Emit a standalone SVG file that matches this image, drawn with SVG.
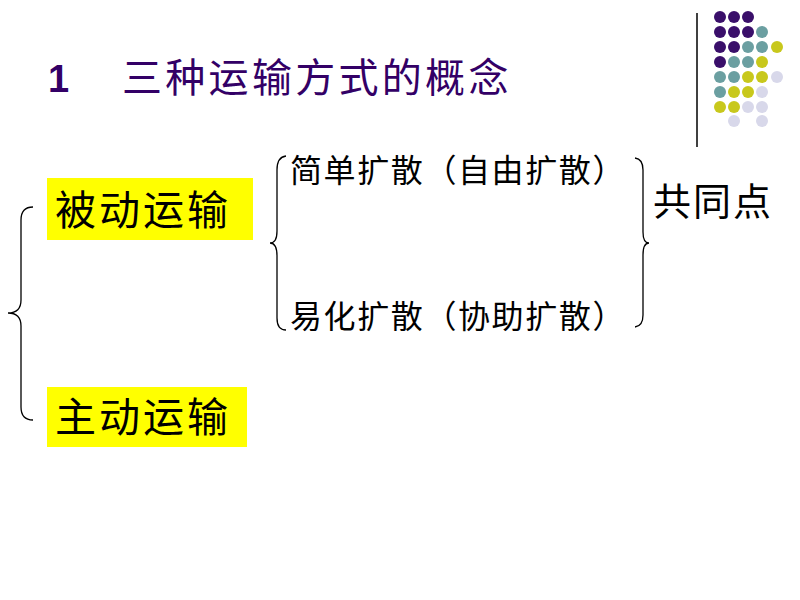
<svg xmlns="http://www.w3.org/2000/svg" width="800" height="600" viewBox="0 0 800 600">
<style>
.cjk{font-family:"Noto Sans CJK SC","Noto Sans",sans-serif;fill:#000}
.title{font-family:"Noto Sans CJK SC",sans-serif;fill:#330066}
.brace{fill:none;stroke:#000;stroke-width:1.3}
.hl{fill:#ffff00}
.p{fill:#3a0f6a}.t{fill:#6b9fa1}.y{fill:#c8c81c}.l{fill:#d8d8ea}
</style>
<rect width="800" height="600" fill="#fff"/>
<g id="decor">
<line x1="697" y1="13" x2="697" y2="147" stroke="#000" stroke-width="1.5"/>
<g>
<circle class="p" cx="720" cy="17" r="6"/><circle class="p" cx="734" cy="17" r="6"/><circle class="p" cx="748" cy="17" r="6"/>
<circle class="p" cx="720" cy="32" r="6"/><circle class="p" cx="734" cy="32" r="6"/><circle class="p" cx="748" cy="32" r="6"/><circle class="t" cx="762" cy="32" r="6"/>
<circle class="p" cx="720" cy="47" r="6"/><circle class="p" cx="734" cy="47" r="6"/><circle class="t" cx="748" cy="47" r="6"/><circle class="t" cx="762" cy="47" r="6"/><circle class="y" cx="777" cy="47" r="6"/>
<circle class="p" cx="720" cy="62" r="6"/><circle class="t" cx="734" cy="62" r="6"/><circle class="t" cx="748" cy="62" r="6"/><circle class="y" cx="762" cy="62" r="6"/>
<circle class="t" cx="720" cy="77" r="6"/><circle class="t" cx="734" cy="77" r="6"/><circle class="y" cx="748" cy="77" r="6"/><circle class="y" cx="762" cy="77" r="6"/><circle class="l" cx="777" cy="77" r="6"/>
<circle class="t" cx="720" cy="92" r="6"/><circle class="y" cx="734" cy="92" r="6"/><circle class="y" cx="748" cy="92" r="6"/><circle class="l" cx="762" cy="92" r="6"/>
<circle class="y" cx="720" cy="107" r="6"/><circle class="y" cx="734" cy="107" r="6"/><circle class="l" cx="748" cy="107" r="6"/><circle class="l" cx="762" cy="107" r="6"/>
<circle class="l" cx="734" cy="121" r="6"/><circle class="l" cx="762" cy="121" r="6"/>
</g>
</g>
<g id="title">
<text x="48" y="92" font-family="Liberation Sans,Arial,sans-serif" font-weight="bold" font-size="38" fill="#330066">1</text>
<text class="title" x="122" y="92" font-size="40" letter-spacing="3.3">三种运输方式的概念</text>
</g>
<g id="connectors">
<path class="brace" d="M33,207 Q21,207 21,220 L21,300 Q21,313 8,313 Q21,313 21,326 L21,407 Q21,420 33,420"/>
<path class="brace" d="M286,156 Q277,157 277,170 L277,231 Q277,243 270,243 Q277,243 277,256 L277,318 Q277,330 286,330"/>
<path class="brace" d="M635,158 Q643,159 643,170 L643,232 Q643,243 649,243 Q643,243 643,255 L643,315 Q643,326 635,327"/>
</g>
<g id="passive">
<rect class="hl" x="47" y="178" width="206" height="62"/>
<text class="cjk" x="55" y="225" font-size="41" letter-spacing="3">被动运输</text>
</g>
<g id="active">
<rect class="hl" x="47" y="387" width="200" height="60"/>
<text class="cjk" x="55" y="432" font-size="41" letter-spacing="3">主动运输</text>
</g>
<g id="simple">
<text class="cjk" x="290" y="182" font-size="32" letter-spacing="1.6">简单扩散（自由扩散）</text>
</g>
<g id="facilitated">
<text class="cjk" x="290" y="328" font-size="32" letter-spacing="1.6">易化扩散（协助扩散）</text>
</g>
<g id="common">
<text class="cjk" x="653" y="215" font-size="38" letter-spacing="2">共同点</text>
</g>
</svg>
